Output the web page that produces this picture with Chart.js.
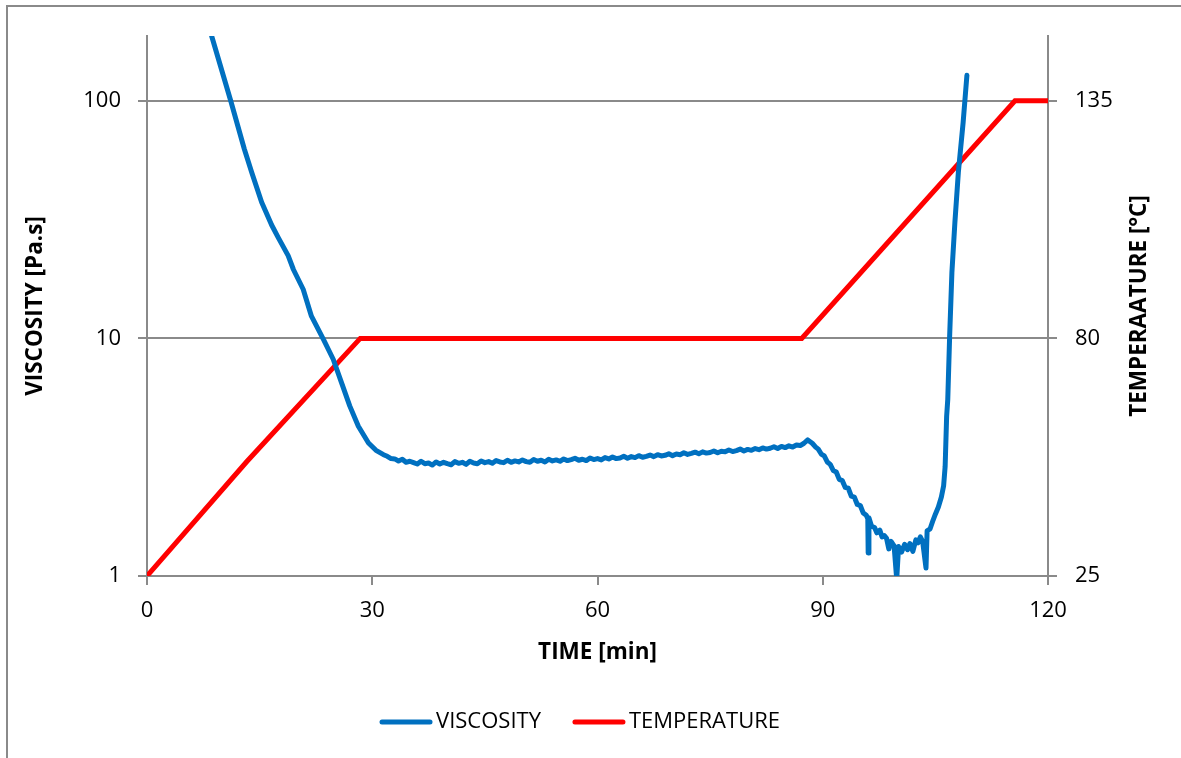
<!DOCTYPE html>
<html>
<head>
<meta charset="utf-8">
<script src="https://cdn.jsdelivr.net/npm/chart.js@4.4.0/dist/chart.umd.min.js"></script>
<style>
  html, body { margin: 0; padding: 0; background: #fff; }
  #grafico { display: block; }
</style>
</head>
<body>
<canvas id="grafico" width="1181" height="758"></canvas>
<script>
// tempo em minutos e viscosidade (Pa.s)
const tempoVisc = [
  8.0, 8.62, 11.15, 12.96, 13.94, 15.27, 16.6, 17.5, 18.8, 19.5, 20.8, 21.9, 23.5, 24.8, 26.0, 27.0, 28.15, 29.5, 30.5, 31.5,
  32.0, 32.5, 33.0, 33.5, 34.0, 34.5, 35.0, 35.5,
  36.0, 36.5, 37.0, 37.5, 38.0, 38.5, 39.0, 39.5,
  40.0, 40.5, 41.0, 41.5, 42.0, 42.5, 43.0, 43.5,
  44.0, 44.5, 45.0, 45.5, 46.0, 46.5, 47.0, 47.5,
  48.0, 48.5, 49.0, 49.5, 50.0, 50.5, 51.0, 51.5,
  52.0, 52.5, 53.0, 53.5, 54.0, 54.5, 55.0, 55.5,
  56.0, 56.5, 57.0, 57.5, 58.0, 58.5, 59.0, 59.5,
  60.0, 60.5, 61.0, 61.5, 62.0, 62.5, 63.0, 63.5,
  64.0, 64.5, 65.0, 65.5, 66.0, 66.5, 67.0, 67.5,
  68.0, 68.5, 69.0, 69.5, 70.0, 70.5, 71.0, 71.5,
  72.0, 72.5, 73.0, 73.5, 74.0, 74.5, 75.0, 75.5,
  76.0, 76.5, 77.0, 77.5, 78.0, 78.5, 79.0, 79.5,
  80.0, 80.5, 81.0, 81.5, 82.0, 82.5, 83.0, 83.5,
  84.0, 84.5, 85.0, 85.5, 86.0, 86.5, 87.0, 87.5, 88.0,
  88.6, 89.0, 89.4, 89.8, 90.2, 90.6, 91.0, 91.4, 91.8, 92.2, 92.6, 93.0, 93.4, 93.8, 94.2, 94.6, 95.0, 95.4, 95.8,
  96.0, 96.05, 96.15, 96.5, 96.9, 97.2, 97.6, 97.9, 98.2, 98.5, 98.8, 99.1, 99.5, 99.85, 100.1, 100.5, 100.9,
  101.3, 101.6, 102.0, 102.4, 102.7, 103.0, 103.3, 103.75, 103.9, 104.3, 104.7, 105.0, 105.4, 105.8, 106.1,
  106.3, 106.5, 106.65, 106.9, 107.2, 107.6, 108.06, 108.7, 109.2
];
const viscosidade = [
  240, 187, 100, 62.7, 50, 37.4, 30, 26.5, 22.3, 19.5, 16.1, 12.4, 9.9, 8.17, 6.39, 5.2, 4.27, 3.63, 3.38, 3.24,
  3.19, 3.12, 3.11, 3.05, 3.10, 3.01, 3.04, 3.00,
  2.96, 3.04, 2.97, 2.99, 2.93, 3.02, 2.96, 3.01,
  2.97, 2.94, 3.03, 2.98, 3.01, 2.95, 3.04, 2.99,
  2.97, 3.05, 3.00, 3.03, 2.98, 3.06, 3.02, 3.00,
  3.07, 3.01, 3.05, 3.02, 3.08, 3.03, 3.01, 3.09,
  3.04, 3.07, 3.02, 3.10, 3.05, 3.08, 3.04, 3.11,
  3.06, 3.09, 3.13, 3.07, 3.10, 3.06, 3.14, 3.09,
  3.12, 3.08, 3.15, 3.11, 3.17, 3.12, 3.14, 3.19,
  3.13, 3.18, 3.15, 3.21, 3.16, 3.19, 3.23, 3.18,
  3.24, 3.20, 3.22, 3.27, 3.21, 3.26, 3.24, 3.30,
  3.25, 3.28, 3.32, 3.27, 3.33, 3.29, 3.31, 3.36,
  3.30, 3.35, 3.33, 3.39, 3.34, 3.37, 3.42, 3.36,
  3.41, 3.38, 3.44, 3.40, 3.46, 3.42, 3.45, 3.50,
  3.44, 3.51, 3.47, 3.53, 3.49, 3.56, 3.54, 3.62, 3.74,
  3.62, 3.50, 3.42, 3.26, 3.20, 3.02, 2.95, 2.78, 2.74, 2.55, 2.52, 2.36, 2.34, 2.17, 2.15, 2.00, 1.98, 1.84, 1.80,
  1.74, 1.25, 1.76, 1.62, 1.60, 1.52, 1.56, 1.46, 1.48, 1.44, 1.30, 1.40, 1.34, 0.97, 1.33, 1.26, 1.36,
  1.29, 1.37, 1.27, 1.42, 1.38, 1.46, 1.40, 1.08, 1.55, 1.58, 1.72, 1.82, 1.95, 2.15, 2.40,
  2.89, 4.7, 5.53, 10.2, 18.9, 30.8, 50, 81.3, 128
];
const tempoTemp = [0, 13.3, 28.4, 87.2, 115.6, 120];
const temperatura = [25, 51.5, 80, 80, 135, 135];

const ticksTempo = [0, 30, 60, 90, 120];
const ticksVisc = [1, 10, 100];
const ticksTemp = [25, 80, 135];

const corGrade = '#8a8a8a';
const fonte = "'Open Sans', 'DejaVu Sans', sans-serif";
const tituloDireita = 'TEMPERAATURE [°C]';

// moldura do gráfico, título do eixo direito (lido de baixo para cima) e legenda
const extras = {
  id: 'extras',
  beforeDraw(chart) {
    const c = chart.ctx;
    c.save();
    c.strokeStyle = corGrade;
    c.lineWidth = 2;
    c.beginPath();
    c.moveTo(7, 800);
    c.lineTo(7, 6);
    c.lineTo(1190, 6);
    c.stroke();
    c.restore();
  },
  afterDraw(chart) {
    const c = chart.ctx;
    const area = chart.chartArea;
    c.save();
    c.translate(1140, (area.top + area.bottom) / 2);
    c.rotate(-Math.PI / 2);
    c.fillStyle = '#000';
    c.font = "bold 22.5px " + fonte;
    c.textAlign = 'center';
    c.textBaseline = 'middle';
    c.fillText(tituloDireita, 0, 0);
    c.restore();

    // legenda
    c.save();
    c.font = "22px " + fonte;
    const itens = chart.data.datasets.map(ds => ({ texto: ds.label, cor: ds.borderColor, w: c.measureText(ds.label).width }));
    const linha = 52, espaco = 4, entre = 32;
    const total = itens.reduce((s, it) => s + linha + espaco + it.w, 0) + entre * (itens.length - 1);
    let x = 580 - total / 2;
    const y = 722;
    c.textBaseline = 'middle';
    c.textAlign = 'left';
    itens.forEach(it => {
      c.strokeStyle = it.cor;
      c.lineWidth = 5;
      c.lineCap = 'round';
      c.beginPath();
      c.moveTo(x + 2, y);
      c.lineTo(x + linha - 2, y);
      c.stroke();
      c.fillStyle = '#000';
      c.fillText(it.texto, x + linha + espaco, y);
      x += linha + espaco + it.w + entre;
    });
    c.restore();
  }
};

const ctx = document.getElementById('grafico').getContext('2d');
new Chart(ctx, {
  type: 'line',
  data: {
    datasets: [{
      label: 'VISCOSITY',
      data: tempoVisc.map((t, i) => ({ x: t, y: viscosidade[i] })),
      borderColor: '#0070c0',
      backgroundColor: '#0070c0',
      borderWidth: 5,
      borderCapStyle: 'round',
      borderJoinStyle: 'round',
      pointRadius: 0,
      tension: 0,
      yAxisID: 'y'
    }, {
      label: 'TEMPERATURE',
      data: tempoTemp.map((t, i) => ({ x: t, y: temperatura[i] })),
      borderColor: '#ff0000',
      backgroundColor: '#ff0000',
      borderWidth: 5,
      borderCapStyle: 'round',
      pointRadius: 0,
      tension: 0,
      yAxisID: 'y2'
    }]
  },
  options: {
    responsive: false,
    animation: false,
    layout: { padding: { left: 8, top: 36, right: 0, bottom: 80 } },
    plugins: {
      tooltip: { enabled: false },
      legend: { display: false }
    },
    scales: {
      x: {
        type: 'linear',
        min: 0,
        max: 120,
        afterBuildTicks: s => { s.ticks = ticksTempo.map(v => ({ value: v })); },
        afterFit: s => { s.height = 102; },
        ticks: { color: '#000', padding: 13, font: { family: fonte, size: 22 } },
        grid: { drawOnChartArea: false, tickLength: 9, color: corGrade, lineWidth: 2 },
        border: { color: corGrade, width: 2 },
        title: {
          display: true,
          text: 'TIME [min]',
          color: '#000',
          font: { family: fonte, size: 22.5, weight: 'bold' },
          padding: { top: 0, bottom: 12 }
        }
      },
      y: {
        type: 'logarithmic',
        position: 'left',
        min: 1,
        max: Math.pow(10, 125 / 55),
        afterBuildTicks: s => { s.ticks = ticksVisc.map(v => ({ value: v })); },
        afterFit: s => { s.width = 139; },
        ticks: { color: '#000', padding: 17, font: { family: fonte, size: 22 }, callback: v => String(v) },
        grid: { color: corGrade, lineWidth: 2, tickLength: 9 },
        border: { color: corGrade, width: 2 },
        title: {
          display: true,
          text: 'VISCOSITY [Pa.s]',
          color: '#000',
          font: { family: fonte, size: 22.5, weight: 'bold' },
          padding: { top: 14, bottom: 0 }
        }
      },
      y2: {
        type: 'linear',
        position: 'right',
        min: 25,
        max: 150,
        afterBuildTicks: s => { s.ticks = ticksTemp.map(v => ({ value: v })); },
        afterFit: s => { s.width = 133; },
        ticks: { color: '#000', padding: 18, font: { family: fonte, size: 22 } },
        grid: { drawOnChartArea: false, color: corGrade, lineWidth: 2, tickLength: 9 },
        border: { color: corGrade, width: 2 }
      }
    }
  },
  plugins: [extras]
});
</script>
</body>
</html>
